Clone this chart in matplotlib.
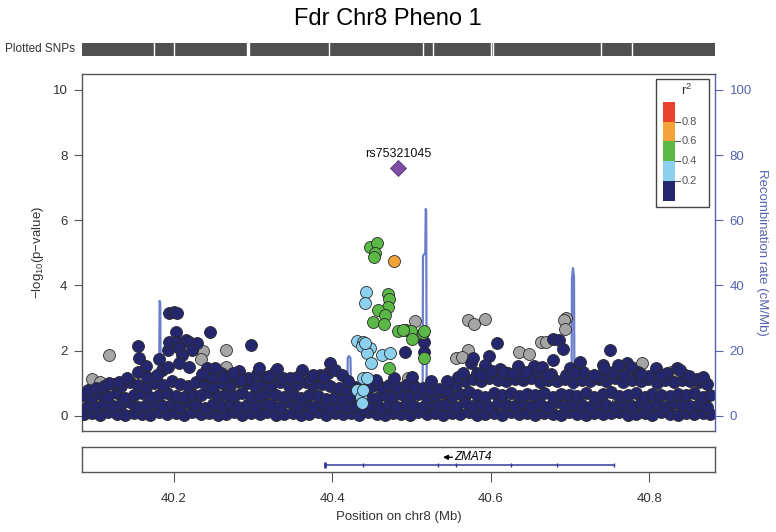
import matplotlib.pyplot as plt
from matplotlib.patches import Rectangle

plt.rcParams['font.family'] = ['Liberation Sans', 'DejaVu Sans']
plt.rcParams['mathtext.fontset'] = 'custom'
plt.rcParams['mathtext.rm'] = 'Liberation Sans'

# region shown, chr8 (Mb)
x_lo, x_hi = 40.0838, 40.883

title = 'Fdr Chr8 Pheno 1'
lead_name = 'rs75321045'
lead_pos = 40.483
lead_logp = 7.60

# bulk of SNPs (r2 < 0.2), bottom band, two staggered position lists
band_pos_a = [40.086, 40.096, 40.107, 40.117, 40.128, 40.138, 40.149, 40.160, 40.170, 40.181,
              40.191, 40.202, 40.212, 40.223, 40.234, 40.244, 40.255, 40.265, 40.276, 40.286,
              40.297, 40.308, 40.318, 40.329, 40.339, 40.350, 40.360, 40.371, 40.382, 40.392,
              40.403, 40.413, 40.424, 40.434, 40.445, 40.456, 40.466, 40.477, 40.487, 40.498,
              40.508, 40.519, 40.530, 40.540, 40.551, 40.561, 40.572, 40.582, 40.593, 40.604,
              40.614, 40.625, 40.635, 40.646, 40.656, 40.667, 40.678, 40.688, 40.699, 40.709,
              40.720, 40.730, 40.741, 40.752, 40.762, 40.773, 40.783, 40.794, 40.804, 40.815,
              40.826, 40.836, 40.847, 40.857, 40.868, 40.877]
band_pos_b = [40.091, 40.101, 40.112, 40.123, 40.133, 40.144, 40.154, 40.165, 40.175, 40.186,
              40.197, 40.207, 40.218, 40.228, 40.239, 40.249, 40.260, 40.271, 40.281, 40.292,
              40.302, 40.313, 40.323, 40.334, 40.345, 40.355, 40.366, 40.376, 40.387, 40.397,
              40.408, 40.419, 40.429, 40.440, 40.450, 40.461, 40.471, 40.482, 40.493, 40.503,
              40.514, 40.524, 40.535, 40.545, 40.556, 40.567, 40.577, 40.588, 40.598, 40.609,
              40.619, 40.630, 40.641, 40.651, 40.662, 40.672, 40.683, 40.693, 40.704, 40.715,
              40.725, 40.736, 40.746, 40.757, 40.767, 40.778, 40.789, 40.799, 40.810, 40.820,
              40.831, 40.841, 40.852, 40.863, 40.873]
band1_logp = [0.04, 0.08, 0.02, 0.11, 0.05, 0.01, 0.09, 0.06, 0.03, 0.10,
              0.04, 0.07, 0.01, 0.12, 0.05, 0.08, 0.02, 0.06, 0.10, 0.03,
              0.07, 0.04, 0.11, 0.01, 0.06, 0.09, 0.03, 0.05, 0.12, 0.02,
              0.08, 0.04, 0.07, 0.01, 0.10, 0.05, 0.03, 0.09, 0.06, 0.02,
              0.11, 0.04, 0.08, 0.01, 0.07, 0.05, 0.10, 0.03, 0.06, 0.09,
              0.02, 0.12, 0.04, 0.07, 0.01, 0.08, 0.05, 0.03, 0.11, 0.06,
              0.02, 0.09, 0.04, 0.07, 0.10, 0.01, 0.05, 0.08, 0.03, 0.12,
              0.06, 0.02, 0.09, 0.04, 0.07, 0.05]
band2_logp = [0.31, 0.26, 0.38, 0.29, 0.35, 0.41, 0.27, 0.33, 0.39, 0.30,
              0.36, 0.28, 0.42, 0.32, 0.25, 0.37, 0.30, 0.40, 0.27, 0.34,
              0.29, 0.38, 0.33, 0.26, 0.41, 0.31, 0.36, 0.28, 0.35, 0.24,
              0.30, 0.27, 0.33, 0.22, 0.29, 0.25, 0.34, 0.28, 0.37, 0.31,
              0.26, 0.39, 0.32, 0.35, 0.28, 0.41, 0.30, 0.36, 0.27, 0.38,
              0.33, 0.29, 0.40, 0.31, 0.35, 0.27, 0.42, 0.30, 0.37, 0.32,
              0.28, 0.39, 0.34, 0.26, 0.36, 0.31, 0.40, 0.29, 0.35, 0.27,
              0.38, 0.32, 0.30, 0.36, 0.28]
band3_logp = [0.62, 0.57, 0.68, 0.60, 0.71, 0.55, 0.65, 0.69, 0.58, 0.64,
              0.70, 0.61, 0.56, 0.67, 0.63, 0.72, 0.59, 0.66, 0.60, 0.69,
              0.57, 0.64, 0.70, 0.62, 0.58, 0.67, 0.55, 0.63, 0.60, 0.52,
              0.58, 0.54, 0.61, 0.50, 0.56, 0.53, 0.62, 0.59, 0.66, 0.61,
              0.68, 0.57, 0.64, 0.70, 0.60, 0.67, 0.72, 0.63, 0.58, 0.69,
              0.65, 0.71, 0.59, 0.66, 0.62, 0.70, 0.57, 0.68, 0.64, 0.61,
              0.69, 0.58, 0.66, 0.72, 0.60, 0.65, 0.70, 0.56, 0.67, 0.63,
              0.59, 0.68, 0.62, 0.70, 0.57, 0.64]
band4_logp = [0.78, 0.86, 0.92, 0.98, 0.90, 1.02, 0.95, 0.88, 1.00, 0.93,
              1.05, 0.97, 0.91, 1.03, 0.96, 0.89, 1.01, 0.94, 1.06, 0.99,
              0.92, 1.00, 0.95, 1.04, 0.90, 0.97, 1.02, 0.93, 0.98, 0.91,
              0.86, 0.82, 0.88, 0.84, 0.90, 0.87, 0.93, 0.89, 0.95, 0.91,
              0.85, 0.80, 0.83, 0.79, 0.96, 1.05, 1.12, 1.08, 1.15, 1.10,
              1.06, 1.13, 1.09, 1.16, 1.04, 1.11, 1.07, 1.14, 1.02, 1.10,
              1.05, 1.12, 1.08, 1.15, 1.03, 1.10, 1.06, 1.13, 1.01, 1.09,
              1.04, 1.11, 1.07, 1.02, 0.98]

# ragged top of the band
band5_pos = [40.236, 40.248, 40.259, 40.270, 40.282, 40.293, 40.305, 40.316, 40.327, 40.338,
             40.372, 40.384, 40.395, 40.545, 40.558, 40.582, 40.596, 40.612, 40.622, 40.640,
             40.658, 40.676, 40.695, 40.716, 40.736, 40.748, 40.768, 40.786, 40.800, 40.822,
             40.845, 40.860]
band5_logp = [1.25, 1.18, 1.32, 1.22, 1.36, 1.15, 1.28, 1.20, 1.34, 1.17,
              1.12, 1.24, 1.30, 1.05, 1.20, 1.32, 1.24, 1.42, 1.30, 1.22,
              1.36, 1.28, 1.25, 1.34, 1.20, 1.30, 1.26, 1.35, 1.22, 1.30,
              1.24, 1.12]

# r2 < 0.2, above the band
low_pos = [40.194, 40.200, 40.204, 40.202, 40.246, 40.297, 40.154, 40.156, 40.164, 40.154,
           40.166, 40.181, 40.192, 40.194, 40.204, 40.215, 40.219, 40.229, 40.206, 40.223,
           40.210, 40.185, 40.192, 40.206, 40.219, 40.242, 40.252, 40.307, 40.330, 40.362,
           40.397, 40.403, 40.412, 40.389, 40.118, 40.131, 40.284, 40.347, 40.492, 40.516,
           40.516, 40.608, 40.751, 40.679, 40.686, 40.691, 40.678, 40.598, 40.575, 40.712,
           40.772, 40.741, 40.808, 40.835, 40.777, 40.634, 40.655, 40.664, 40.617, 40.754,
           40.760, 40.743, 40.839, 40.700, 40.577, 40.592, 40.565, 40.588, 40.602, 40.628,
           40.645, 40.672, 40.705, 40.730, 40.790, 40.815, 40.850, 40.868, 40.140, 40.178,
           40.235, 40.262, 40.275, 40.320, 40.355, 40.375, 40.420, 40.455, 40.478, 40.500, 40.525]
low_logp = [3.16, 3.18, 3.14, 2.58, 2.58, 2.17, 2.14, 1.76, 1.53, 1.35,
            1.20, 1.73, 2.02, 2.27, 2.27, 2.32, 2.27, 2.22, 2.07, 2.02,
            1.86, 1.40, 1.50, 1.61, 1.50, 1.46, 1.46, 1.46, 1.43, 1.40,
            1.63, 1.40, 1.25, 1.20, 0.99, 1.04, 1.10, 1.15, 1.97, 1.97,
            2.27, 2.22, 2.02, 2.35, 2.32, 2.04, 1.71, 1.83, 1.61, 1.66,
            1.63, 1.56, 1.46, 1.46, 1.50, 1.53, 1.53, 1.49, 1.35, 1.35,
            1.56, 1.46, 1.40, 1.46, 1.76, 1.56, 1.30, 1.25, 1.38, 1.28,
            1.33, 1.26, 1.30, 1.24, 1.28, 1.25, 1.22, 1.18, 1.15, 1.25,
            1.28, 1.20, 1.30, 1.22, 1.18, 1.25, 1.05, 1.10, 1.15, 1.20, 1.05]

# no LD information
na_pos = [40.118, 40.236, 40.234, 40.265, 40.265, 40.097, 40.106, 40.504, 40.496, 40.571,
          40.579, 40.592, 40.695, 40.692, 40.693, 40.663, 40.670, 40.571, 40.636, 40.648,
          40.556, 40.563, 40.791, 40.790, 40.827, 40.852, 40.869, 40.722, 40.808, 40.781,
          40.170, 40.300, 40.420, 40.630, 40.760, 40.205, 40.280]
na_logp = [1.86, 2.00, 1.73, 2.02, 1.50, 1.12, 1.04, 2.92, 1.15, 2.94,
           2.82, 2.96, 2.99, 2.95, 2.65, 2.27, 2.27, 2.02, 1.97, 1.89,
           1.76, 1.81, 1.61, 1.20, 1.35, 1.15, 1.10, 1.22, 1.12, 1.25,
           0.30, 0.20, 0.40, 0.50, 0.45, 0.55, 0.70]

# 0.2 - 0.4
lb_pos = [40.442, 40.441, 40.431, 40.439, 40.437, 40.447, 40.443, 40.462, 40.473, 40.449,
          40.438, 40.431, 40.436, 40.437, 40.441, 40.443, 40.438]
lb_logp = [3.81, 3.47, 2.30, 2.27, 2.14, 2.07, 1.92, 1.86, 1.92, 1.61,
           1.15, 0.79, 0.58, 0.40, 2.22, 1.15, 0.79]

# 0.4 - 0.6
gr_pos = [40.448, 40.456, 40.454, 40.452, 40.470, 40.472, 40.470, 40.457, 40.466, 40.451,
          40.465, 40.483, 40.493, 40.499, 40.501, 40.514, 40.516, 40.515, 40.472, 40.489]
gr_logp = [5.19, 5.29, 4.99, 4.86, 3.74, 3.57, 3.35, 3.25, 3.09, 2.89,
           2.81, 2.61, 2.63, 2.61, 2.36, 2.53, 2.61, 1.76, 1.46, 2.62]

# 0.6 - 0.8
or_pos = [40.478]
or_logp = [4.76]

# recombination rate (cM/Mb)
rec_pos = [40.0838, 40.10, 40.13, 40.16, 40.1810, 40.1818, 40.1826, 40.1834, 40.186, 40.22,
           40.26, 40.30, 40.35, 40.40, 40.4185, 40.4193, 40.4210, 40.4228, 40.4236, 40.43,
           40.47, 40.50, 40.5138, 40.5143, 40.5172, 40.5178, 40.5184, 40.5190, 40.55, 40.60,
           40.65, 40.69, 40.7018, 40.7024, 40.7037, 40.7050, 40.7056, 40.71, 40.76, 40.82, 40.883]
rec_rate = [0.4, 0.6, 0.3, 0.8, 1.0, 35.2, 34.5, 1.0, 0.5, 0.4,
            0.7, 0.3, 0.6, 0.5, 1.0, 17.8, 18.3, 17.6, 1.0, 0.5,
            0.8, 0.6, 1.5, 49.0, 50.0, 63.5, 62.5, 2.0, 0.6, 0.4,
            0.7, 0.5, 1.0, 42.0, 45.3, 42.5, 1.0, 0.4, 0.6, 0.3, 0.5]

# gene track
gene_name = 'ZMAT4'
gene_start, gene_end = 40.3905, 40.7554
exon_pos = [40.3905, 40.4389, 40.5328, 40.5556, 40.625, 40.6838, 40.7554]

# spots with no plotted SNPs in the top rug
snp_gaps = [40.1747, 40.2, 40.294, 40.3957, 40.5144, 40.527, 40.6, 40.6025, 40.7391, 40.7783]

legend_ticks = ['0.2', '0.4', '0.6', '0.8']

col_navy = '#25276E'
col_lb = '#8BD0EE'
col_gr = '#5BB847'
col_or = '#F4A23A'
col_red = '#E9432C'
col_na = '#A5A5A5'
col_lead = '#7E4DA3'
col_rec = '#6A7ECB'
col_recax = '#5364AE'
frame = '#555555'
txt = '#333333'

fig = plt.figure(figsize=(7.76, 5.32), dpi=100)
L, W = 82 / 776, 633 / 776

ax = fig.add_axes([L, 1 - 431 / 532, W, 357 / 532])
ax.set_xlim(x_lo, x_hi)
ax.set_ylim(-0.47, 10.49)

# recombination drawn under the points, on the -log10 scale (100 cM/Mb = 10)
ax.plot(rec_pos, [r / 10 for r in rec_rate], color=col_rec, lw=1.6, zorder=1)

pt = dict(s=74, linewidths=0.6, edgecolors='#2a2a2a', zorder=3)
ax.scatter(na_pos, na_logp, c=col_na, **pt)
for pos, lp in [(band_pos_a, band1_logp), (band_pos_b, band2_logp),
                (band_pos_a, band3_logp), (band_pos_b, band4_logp),
                (band5_pos, band5_logp), (low_pos, low_logp)]:
    ax.scatter(pos, lp, c=col_navy, **pt)
ax.scatter(lb_pos, lb_logp, c=col_lb, **pt)
ax.scatter(gr_pos, gr_logp, c=col_gr, **pt)
ax.scatter(or_pos, or_logp, c=col_or, **pt)
ax.scatter([lead_pos], [lead_logp], marker='D', s=66, c=col_lead,
           edgecolors='#5b3579', linewidths=0.6, zorder=5)
ax.text(lead_pos, lead_logp + 0.25, lead_name, ha='center', va='bottom',
        fontsize=9, color='#111111', zorder=6)

ax.set_xticks([])
ax.set_yticks([0, 2, 4, 6, 8, 10])
ax.tick_params(axis='y', length=5.5, width=0.8, color=frame, pad=5,
               labelsize=9.5, labelcolor=txt)
for side in ['top', 'left', 'bottom']:
    ax.spines[side].set_color(frame)
    ax.spines[side].set_linewidth(1.0)
ax.spines['right'].set_visible(False)

ax2 = ax.twinx()
ax2.set_ylim(-4.7, 104.9)
ax2.set_yticks([0, 20, 40, 60, 80, 100])
ax2.tick_params(axis='y', length=5.5, width=0.8, color=col_recax, pad=5,
                labelsize=9.5, labelcolor=col_recax)
for side in ['top', 'left', 'bottom']:
    ax2.spines[side].set_visible(False)
ax2.spines['right'].set_color(col_recax)
ax2.spines['right'].set_linewidth(1.0)

# r2 legend
ax.add_patch(Rectangle((0.9063, 0.6283), 0.0842, 0.3577, transform=ax.transAxes,
                       facecolor='white', edgecolor='#444444', lw=1.0, zorder=8))
seg_h = 0.05546
for i, c in enumerate([col_navy, col_lb, col_gr, col_or, col_red]):
    ax.add_patch(Rectangle((0.9174, 0.6451 + i * seg_h), 0.0199, seg_h,
                           transform=ax.transAxes, facecolor=c, edgecolor='none', zorder=9))
for i, lab in enumerate(legend_ticks):
    yy = 0.6451 + (i + 1) * seg_h
    ax.plot([0.9373, 0.9447], [yy, yy], transform=ax.transAxes, color='#555555',
            lw=0.8, zorder=9)
    ax.text(0.9479, yy, lab, transform=ax.transAxes, fontsize=8, color='#555555',
            va='center', ha='left', zorder=9)
ax.text(0.9553, 0.9532, r'r$^{\mathregular{2}}$', transform=ax.transAxes, fontsize=9.5,
        color=txt, ha='center', va='center', zorder=9)

# plotted SNPs rug
sax = fig.add_axes([L, 1 - 55.7 / 532, W, 12.4 / 532])
sax.set_xlim(x_lo, x_hi)
sax.set_ylim(0, 1)
sax.axis('off')
sax.axvspan(x_lo, x_hi, color='#505050', lw=0)
for g in snp_gaps:
    sax.axvline(g, color='white', lw=1.0)
sax.axvline(snp_gaps[2], color='white', lw=2.4)

# gene panel
gax = fig.add_axes([L, 1 - 471.7 / 532, W, 24.4 / 532])
gax.set_xlim(x_lo, x_hi)
gax.set_ylim(0, 1)
gax.set_yticks([])
gax.set_xticks([40.2, 40.4, 40.6, 40.8])
gax.set_xticklabels(['40.2', '40.4', '40.6', '40.8'])
gax.tick_params(axis='x', length=7, width=0.8, color=frame, pad=8,
                labelsize=9.5, labelcolor=txt)
for s in gax.spines.values():
    s.set_color(frame)
    s.set_linewidth(1.0)
gene_col = '#34389A'
gax.plot([gene_start, gene_end], [0.275, 0.275], color=gene_col, lw=1.1)
gax.vlines(exon_pos, 0.18, 0.37, color=gene_col, lw=1.0)
gax.vlines([gene_start], 0.17, 0.38, color=gene_col, lw=2.0)
gax.annotate('', xy=(40.5395, 0.59), xytext=(40.5515, 0.59),
             arrowprops=dict(arrowstyle='-|>', color='black', lw=1.0,
                             mutation_scale=7, shrinkA=0, shrinkB=0))
gax.text(40.5535, 0.59, gene_name, fontsize=8.5, style='italic', color='black',
         ha='left', va='center')

fig.text(0.5, 1 - 19 / 532, title, fontsize=17, ha='center', va='center', color='black')
fig.text(75 / 776, 1 - 49.5 / 532, 'Plotted SNPs', fontsize=8.5, ha='right',
         va='center', color=txt)
fig.text(38 / 776, 1 - 252.5 / 532, r'$-$log$_{\mathregular{10}}$(p$-$value)',
         rotation=90, fontsize=9.5, ha='center', va='center', color=txt)
fig.text(762 / 776, 1 - 252.5 / 532, 'Recombination rate (cM/Mb)', rotation=270,
         fontsize=9.5, ha='center', va='center', color=col_recax)
fig.text(L + W / 2, 1 - 517 / 532, 'Position on chr8 (Mb)', fontsize=9.5,
         ha='center', va='center', color=txt)

fig.savefig('out.png', dpi=100)
